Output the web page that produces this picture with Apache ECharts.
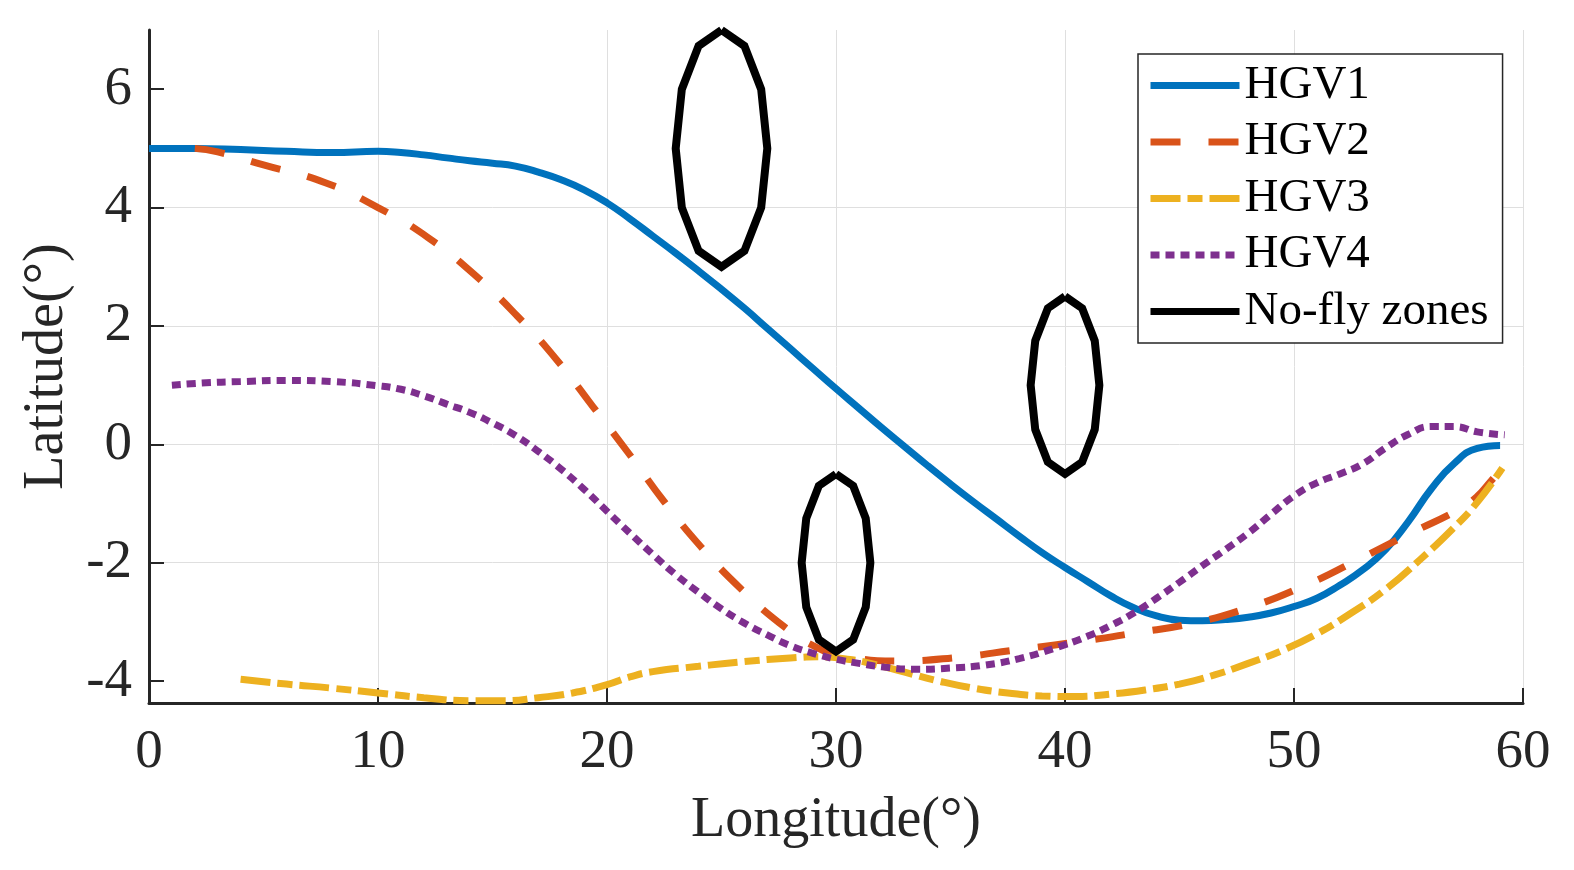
<!DOCTYPE html>
<html>
<head>
<meta charset="utf-8">
<title>HGV trajectories</title>
<script src="https://cdn.jsdelivr.net/npm/echarts@6/dist/echarts.min.js"></script>
<style>
  html, body { margin: 0; padding: 0; background: #fff; }
  #main { width: 1574px; height: 870px; }
</style>
</head>
<body>
<div id="main"></div>
<script>
// trajectories, [longitude, latitude]
var hgv1 = [[0,5.0],[2,5.0],[4,4.98],[6,4.95],[8,4.93],[10,4.95],[11,4.93],[12,4.89],[13,4.84],[14,4.79],[15,4.75],[16,4.7],[17,4.6],[18,4.47],[19,4.3],[20,4.08],[21,3.81],[22,3.52],[23,3.23],[24,2.93],[25,2.62],[26,2.3],[27,1.96],[28,1.62],[29,1.28],[30,0.94],[31,0.61],[32,0.28],[33,-0.04],[34,-0.36],[35,-0.67],[36,-0.97],[37,-1.26],[38,-1.55],[39,-1.83],[40,-2.08],[41,-2.32],[42,-2.56],[43,-2.76],[44,-2.9],[45,-2.97],[46,-2.98],[47,-2.96],[48,-2.92],[49,-2.85],[50,-2.74],[51,-2.6],[52,-2.38],[53,-2.12],[54,-1.78],[55,-1.3],[56,-0.75],[57,-0.32],[58,-0.07],[59,-0.02]];
var hgv2 = [[2,5.0],[3,4.94],[5,4.72],[7.7,4.42],[10,4.0],[12.2,3.49],[14.2,2.87],[16.1,2.16],[17.8,1.43],[19.4,0.63],[21,-0.18],[22.5,-0.97],[24.1,-1.73],[25.9,-2.46],[27.8,-3.1],[29,-3.4],[30.2,-3.56],[32.7,-3.66],[35.3,-3.6],[37.9,-3.47],[40.5,-3.34],[43,-3.19],[45.6,-3.02],[48,-2.76],[50.4,-2.4],[52.8,-1.95],[55.1,-1.5],[57.2,-1.1],[58,-0.88],[58.6,-0.62],[59.1,-0.4]];
var hgv3 = [[4,-3.97],[6,-4.05],[8,-4.12],[10,-4.2],[12,-4.28],[14,-4.33],[15.5,-4.33],[17,-4.28],[18.5,-4.2],[20,-4.06],[21,-3.93],[22,-3.84],[24,-3.75],[26,-3.67],[28,-3.61],[29.3,-3.59],[30.5,-3.63],[31.5,-3.7],[33,-3.85],[34.5,-4.0],[36,-4.12],[37.5,-4.2],[39,-4.25],[40.5,-4.26],[42,-4.22],[43.5,-4.15],[45,-4.05],[46.5,-3.9],[48,-3.7],[49.5,-3.48],[51,-3.2],[52.5,-2.85],[54,-2.45],[55.5,-1.95],[57,-1.4],[58,-0.98],[59.1,-0.4]];
var hgv4 = [[1,1.0],[2.5,1.04],[4,1.06],[6,1.08],[8,1.06],[10,0.99],[11,0.93],[12,0.82],[13,0.68],[14,0.54],[15,0.36],[16,0.15],[17,-0.12],[18,-0.42],[19,-0.76],[20,-1.13],[21,-1.5],[22,-1.86],[23,-2.2],[24,-2.5],[25,-2.78],[26,-3.02],[27,-3.22],[28,-3.4],[29,-3.53],[30,-3.63],[31,-3.7],[32,-3.76],[33.5,-3.8],[35,-3.78],[36.5,-3.73],[38,-3.62],[39.5,-3.45],[41,-3.24],[42,-3.06],[43,-2.85],[44,-2.6],[45,-2.33],[46,-2.05],[47,-1.78],[48,-1.5],[49,-1.18],[50,-0.87],[51,-0.65],[52,-0.5],[53,-0.33],[54,-0.06],[55,0.17],[56,0.3],[57,0.3],[58,0.21],[59.2,0.16]];

// no-fly zones (12-sided outlines)
var zone1 = [[25,7],[26,6.732],[26.732,6],[27,5],[26.732,4],[26,3.268],[25,3],[24,3.268],[23.268,4],[23,5],[23.268,6],[24,6.732],[25,7]];
var zone2 = [[30,-0.5],[30.75,-0.701],[31.299,-1.25],[31.5,-2],[31.299,-2.75],[30.75,-3.299],[30,-3.5],[29.25,-3.299],[28.701,-2.75],[28.5,-2],[28.701,-1.25],[29.25,-0.701],[30,-0.5]];
var zone3 = [[40,2.5],[40.75,2.299],[41.299,1.75],[41.5,1],[41.299,0.25],[40.75,-0.299],[40,-0.5],[39.25,-0.299],[38.701,0.25],[38.5,1],[38.701,1.75],[39.25,2.299],[40,2.5]];

var names = ['HGV1', 'HGV2', 'HGV3', 'HGV4', 'No-fly zones'];
var yTicks = [-4, -2, 0, 2, 4, 6];

var serif = '"Liberation Serif", "Times New Roman", serif';
var ink = '#262626';

function trackSeries(name, data, color, dash) {
  return {
    name: name,
    type: 'line',
    data: data,
    smooth: 0.5,
    symbol: 'none',
    lineStyle: { color: color, width: 7, type: dash, cap: 'butt' },
    itemStyle: { color: color }
  };
}

function zoneSeries(data) {
  return {
    name: 'No-fly zones',
    type: 'line',
    data: data,
    symbol: 'none',
    lineStyle: { color: '#000', width: 8, type: 'solid', join: 'miter' },
    itemStyle: { color: '#000' }
  };
}

var chart = echarts.init(document.getElementById('main'));
chart.setOption({
  animation: false,
  backgroundColor: '#fff',
  grid: { left: 149, right: 51, top: 30, bottom: 167 },
  legend: {
    data: names,
    orient: 'vertical',
    left: 1138,
    top: 54,
    padding: [8, 14, 8, 9],
    itemWidth: 89,
    itemHeight: 14,
    itemGap: 9.5,
    itemTextGap: 7,
    borderColor: ink,
    borderWidth: 1.5,
    backgroundColor: '#fff',
    // line only, no marker dot on the legend samples
    itemStyle: { color: 'rgba(0,0,0,0)', borderColor: 'rgba(0,0,0,0)', borderWidth: 0 },
    lineStyle: { width: 7 },
    textStyle: { fontFamily: serif, fontSize: 47, color: '#000' }
  },
  xAxis: {
    type: 'value',
    min: 0,
    max: 60,
    interval: 10,
    name: 'Longitude(°)',
    nameLocation: 'middle',
    nameGap: 90,
    nameTextStyle: { fontFamily: serif, fontSize: 56, color: ink },
    axisLine: { onZero: false, lineStyle: { color: ink, width: 3 } },
    axisTick: { inside: true, length: 15, lineStyle: { color: ink, width: 2 } },
    axisLabel: { margin: 22, fontFamily: serif, fontSize: 55, color: ink },
    splitLine: { show: true, showMinLine: false, lineStyle: { color: '#dfdfdf', width: 1 } }
  },
  yAxis: {
    type: 'value',
    min: -4.37,
    max: 7,
    name: 'Latitude(°)',
    nameLocation: 'middle',
    nameGap: 64,
    nameTextStyle: { fontFamily: serif, fontSize: 56, color: ink },
    axisLine: { show: true, onZero: false, lineStyle: { color: ink, width: 3 } },
    axisTick: { show: true, inside: true, length: 15, customValues: yTicks, lineStyle: { color: ink, width: 2 } },
    axisLabel: { margin: 17, customValues: yTicks, fontFamily: serif, fontSize: 55, color: ink },
    splitLine: { show: true, showMinLine: false, showMaxLine: false, lineStyle: { color: '#dfdfdf', width: 1 } }
  },
  series: [
    trackSeries('HGV1', hgv1, '#0072BD', 'solid'),
    trackSeries('HGV2', hgv2, '#D95319', [30, 28]),
    trackSeries('HGV3', hgv3, '#EDB120', [30, 7, 15, 7]),
    trackSeries('HGV4', hgv4, '#7E2F8E', [9, 6]),
    zoneSeries(zone1),
    zoneSeries(zone2),
    zoneSeries(zone3)
  ]
});
</script>
</body>
</html>
